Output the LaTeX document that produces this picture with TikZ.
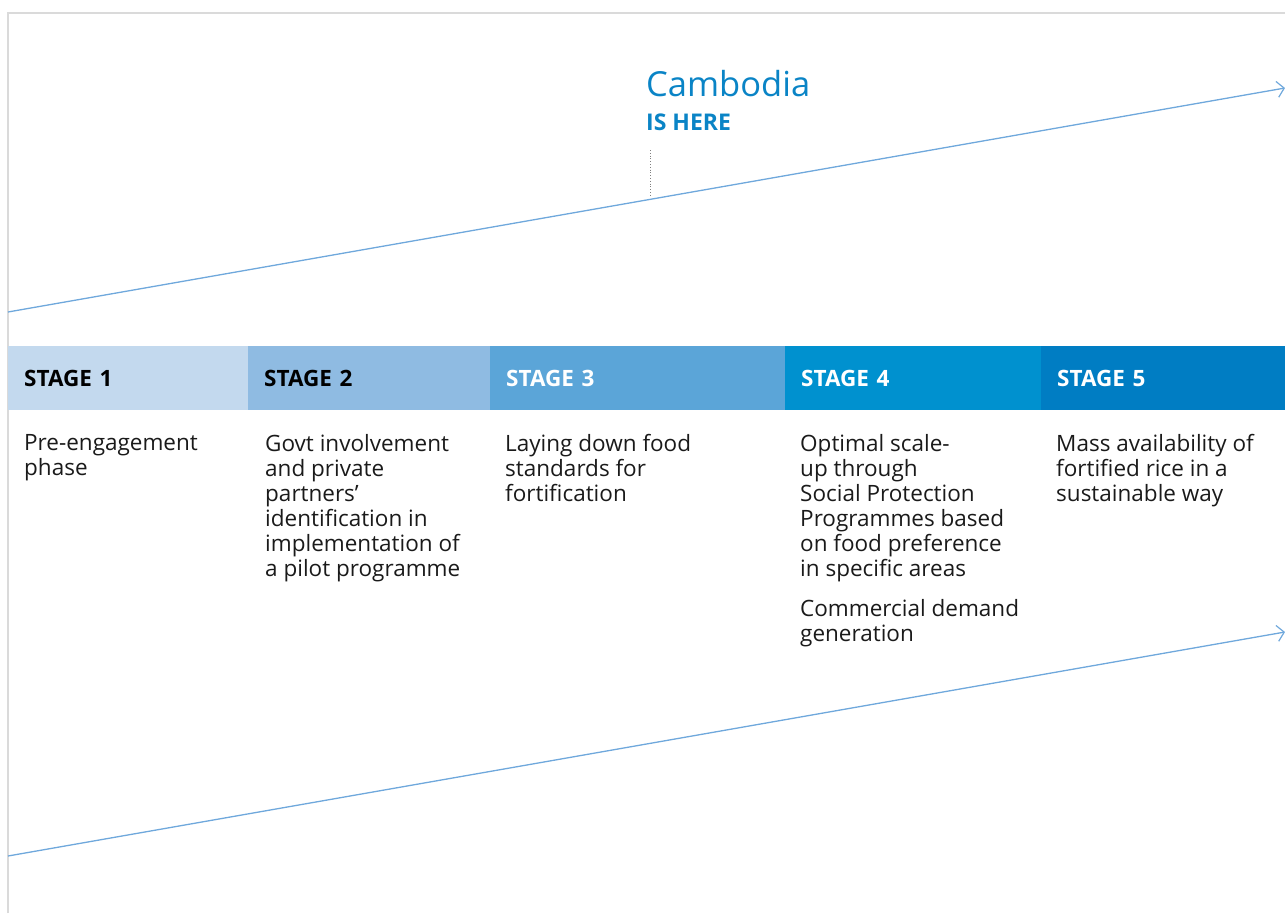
\documentclass[tikz,border=0pt]{standalone}
\usepackage{fontspec}
\setmainfont{Open Sans}
\usepackage{tikz}
\usetikzlibrary{arrows.meta}

\definecolor{frameGrey}{HTML}{DADADA}
\definecolor{lineBlue}{HTML}{6FA8DC}
\definecolor{titleBlue}{HTML}{0A84C6}
\definecolor{stageA}{HTML}{C3D9EE}
\definecolor{stageB}{HTML}{8FBBE2}
\definecolor{stageC}{HTML}{5BA5D8}
\definecolor{stageD}{HTML}{0091CF}
\definecolor{stageE}{HTML}{007DC3}
\definecolor{bodyText}{HTML}{1A1A1A}

\tikzset{
  frame/.style={draw=frameGrey, line width=1.6pt},
  trend/.style={draw=lineBlue, line width=1.3pt, -{Straight Barb[length=7pt, width=16pt, line width=1.2pt]}},
  stagebox/.style={anchor=north west, inner xsep=16pt, inner ysep=0pt, minimum height=64pt,
    font=\fontsize{22.5}{25}\selectfont\bfseries, align=left},
  stagetext/.style={anchor=north west, inner sep=0pt, align=left, text=bodyText,
    font=\fontsize{22.5}{25}\selectfont},
}

\begin{document}
\begin{tikzpicture}[x=1pt,y=-1pt]
\useasboundingbox (0,0) rectangle (1285,913);

%Frame
\draw[frame] (8,913) -- (8,13) -- (1285,13);

%Trend lines
\coordinate (upStart) at (8,312);
\coordinate (upEnd) at (1285,88);
\coordinate (lowStart) at (8,856);
\coordinate (lowEnd) at (1285,632);
\draw[trend] (upStart) -- (upEnd);
\draw[trend] (lowStart) -- (lowEnd);

% Text Node
\node[anchor=base west, inner sep=0pt, text=titleBlue, font=\fontsize{34.5}{40}\selectfont] (country) at (646,96) {Cambodia};
% Text Node
\node[anchor=base west, inner sep=0pt, text=titleBlue, font=\fontsize{23}{25}\selectfont\bfseries] (here) at (646,130) {IS HERE};
%Pointer
\coordinate (pinTop) at (650,150);
\coordinate (pinFoot) at (650,197);
\draw[gray, line width=0.8pt, dotted] (pinTop) -- (pinFoot);

%Stage bars
\node[stagebox, fill=stageA, text width=208pt, text=black] (stage1) at (8,346) {STAGE 1};
\node[stagebox, fill=stageB, text width=210pt, text=black] (stage2) at (248,346) {STAGE 2};
\node[stagebox, fill=stageC, text width=263pt, text=white] (stage3) at (490,346) {STAGE 3};
\node[stagebox, fill=stageD, text width=224pt, text=white] (stage4) at (785,346) {STAGE 4};
\node[stagebox, fill=stageE, text width=212pt, text=white] (stage5) at (1041,346) {STAGE 5};

%Stage descriptions
\node[stagetext] (desc1) at (24,434) {Pre-engagement\\phase};
\node[stagetext] (desc2) at (265,434) {Govt involvement\\and private\\partners’\\identification in\\implementation of\\a pilot programme};
\node[stagetext] (desc3) at (505,434) {Laying down food\\standards for\\fortification};
\node[stagetext] (desc4) at (800,434) {Optimal scale-\\up through\\Social Protection\\Programmes based\\on food preference\\in specific areas\\[15pt]Commercial demand\\generation};
\node[stagetext] (desc5) at (1056,434) {Mass availability of\\fortified rice in a\\sustainable way};

\end{tikzpicture}
\end{document}
